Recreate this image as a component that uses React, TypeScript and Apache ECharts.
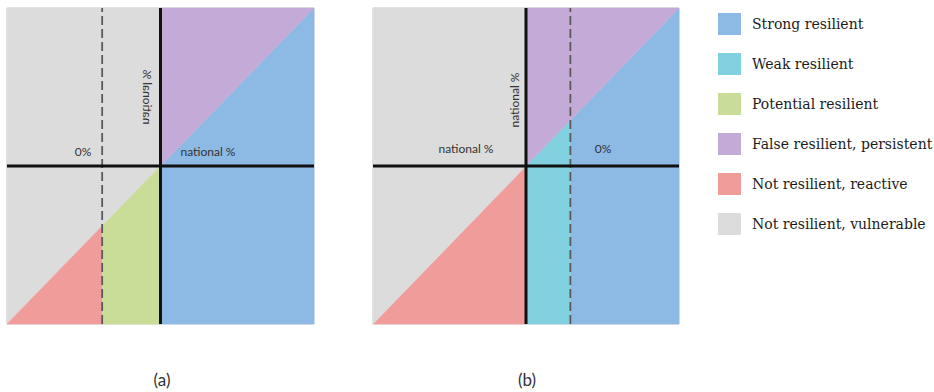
import React, { useEffect, useRef } from "react";
import * as echarts from "echarts";

// Region categories, legend order
const regionNames = [
  "Strong resilient",
  "Weak resilient",
  "Potential resilient",
  "False resilient, persistent",
  "Not resilient, reactive",
  "Not resilient, vulnerable",
];
const regionColors = ["#8db9e5", "#80d0df", "#c9dd98", "#c4aad6", "#f09c9b", "#dcdcdc"];

// Position of the 0% threshold relative to the national % axis in each panel
const panelAThreshold = -0.38;
const panelBThreshold = 0.29;

// Axis labels
const nationalLabel = "national %";
const zeroLabel = "0%";
const panelCaptions = ["(a)", "(b)"];

type Pt = [number, number];

// Region polygons of panel (a): threshold lies left of the national axis
function panelARegions(d: number): Record<string, Pt[]> {
  return {
    "Strong resilient": [[0, -1], [1, -1], [1, 1], [0, 0]],
    "False resilient, persistent": [[0, 0], [1, 1], [0, 1]],
    "Not resilient, vulnerable": [[-1, -1], [0, 0], [0, 1], [-1, 1]],
    "Not resilient, reactive": [[-1, -1], [d, -1], [d, d]],
    "Potential resilient": [[d, -1], [0, -1], [0, 0], [d, d]],
  };
}

// Region polygons of panel (b): threshold lies right of the national axis
function panelBRegions(d: number): Record<string, Pt[]> {
  return {
    "Strong resilient": [[d, -1], [1, -1], [1, 1], [d, d]],
    "Weak resilient": [[0, -1], [d, -1], [d, d], [0, 0]],
    "False resilient, persistent": [[0, 0], [1, 1], [0, 1]],
    "Not resilient, reactive": [[-1, -1], [0, -1], [0, 0]],
    "Not resilient, vulnerable": [[-1, -1], [0, 0], [0, 1], [-1, 1]],
  };
}

function colorOf(name: string) {
  return regionColors[regionNames.indexOf(name)];
}

function regionSeries(regions: Record<string, Pt[]>, gridIndex: number) {
  return Object.keys(regions).map((name) => {
    const verts = regions[name];
    return {
      type: "custom",
      name,
      xAxisIndex: gridIndex,
      yAxisIndex: gridIndex,
      data: verts,
      itemStyle: { color: colorOf(name) },
      silent: true,
      z: 1,
      renderItem: (params: any, api: any) => {
        if (params.dataIndex !== 0) return null;
        const points = verts.map((v) => api.coord(v));
        return {
          type: "polygon",
          shape: { points },
          style: { fill: colorOf(name), stroke: colorOf(name), lineWidth: 0.5 },
        };
      },
    };
  });
}

function lineSeries(data: Pt[], gridIndex: number, style: any, z: number) {
  return {
    type: "line",
    xAxisIndex: gridIndex,
    yAxisIndex: gridIndex,
    data,
    symbol: "none",
    silent: true,
    lineStyle: style,
    z,
  };
}

const axisLine = { color: "#111", width: 3 };
const dashLine = { color: "#5a5a5a", width: 1.8, type: [9, 4] };

export default function App() {
  const ref = useRef<HTMLDivElement>(null);

  useEffect(() => {
    if (!ref.current) return;
    const chart = echarts.init(ref.current, undefined, { renderer: "svg" });

    const grids = [
      { left: 7, top: 8, width: 307, height: 316, show: true, borderColor: "#c8c8c8", borderWidth: 1 },
      { left: 373, top: 8, width: 306, height: 316, show: true, borderColor: "#c8c8c8", borderWidth: 1 },
    ];
    const valueAxis = (gridIndex: number) => ({
      type: "value",
      gridIndex,
      min: -1,
      max: 1,
      show: false,
    });

    const labelFont = { fontFamily: "Lato", fontSize: 12, fill: "#333" };
    const text = (x: number, y: number, t: string, extra: any = {}) => ({
      type: "text",
      x,
      y,
      z: 10,
      ...extra,
      style: { text: t, align: "center", verticalAlign: "middle", ...labelFont, ...(extra.style || {}) },
    });

    chart.setOption({
      animation: false,
      backgroundColor: "#ffffff",
      grid: grids,
      xAxis: [valueAxis(0), valueAxis(1)],
      yAxis: [valueAxis(0), valueAxis(1)],
      legend: {
        orient: "vertical",
        left: 718,
        top: 13,
        padding: 0,
        itemWidth: 23,
        itemHeight: 22,
        itemGap: 18,
        icon: "rect",
        selectedMode: false,
        data: regionNames.map((name, i) => ({ name, itemStyle: { color: regionColors[i] } })),
        textStyle: {
          fontFamily: "DejaVu Serif",
          fontSize: 14,
          color: "#1c1c1c",
          padding: [0, 0, 0, 6],
        },
      },
      series: [
        ...regionSeries(panelARegions(panelAThreshold), 0),
        ...regionSeries(panelBRegions(panelBThreshold), 1),
        lineSeries([[panelAThreshold, -1], [panelAThreshold, 1]], 0, dashLine, 3),
        lineSeries([[panelBThreshold, -1], [panelBThreshold, 1]], 1, dashLine, 3),
        lineSeries([[-1, 0], [1, 0]], 0, axisLine, 4),
        lineSeries([[0, -1], [0, 1]], 0, axisLine, 4),
        lineSeries([[-1, 0], [1, 0]], 1, axisLine, 4),
        lineSeries([[0, -1], [0, 1]], 1, axisLine, 4),
      ],
      graphic: [
        // panel (a)
        text(147, 97, nationalLabel, { rotation: Math.PI / 2, scaleY: -1 }),
        text(83, 151, zeroLabel),
        text(208, 151, nationalLabel),
        // panel (b)
        text(514, 100, nationalLabel, { rotation: Math.PI / 2 }),
        text(466, 148, nationalLabel),
        text(603, 148, zeroLabel),
        // captions
        text(162, 379, panelCaptions[0], { style: { fontSize: 17 } }),
        text(527, 379, panelCaptions[1], { style: { fontSize: 17 } }),
      ],
    });

    return () => chart.dispose();
  }, []);

  return (
    <div
      ref={ref}
      style={{ position: "fixed", left: 0, top: 0, width: 934, height: 392 }}
    />
  );
}
